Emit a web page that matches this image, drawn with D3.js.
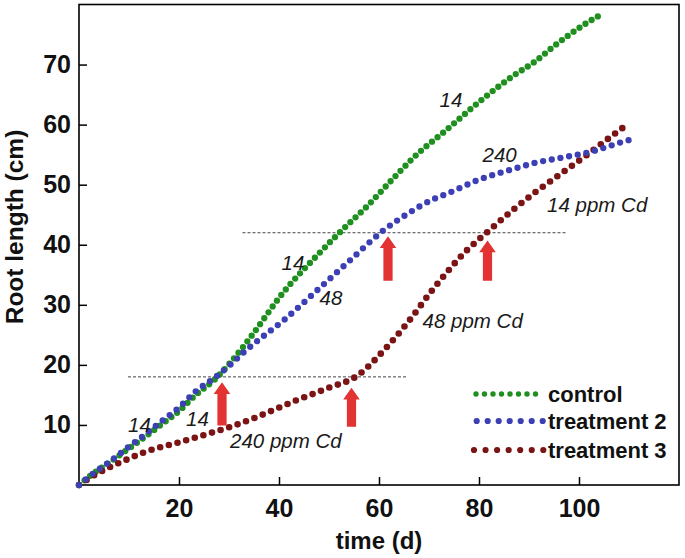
<!DOCTYPE html>
<html>
<head>
<meta charset="utf-8">
<script src="https://cdn.jsdelivr.net/npm/d3@7"></script>
<style>
  body { margin: 0; background: #fff; }
  svg { display: block; font-family: "Liberation Sans", Arial, sans-serif; }
</style>
</head>
<body>
<svg id="chart" width="685" height="558"></svg>
<script>
// ROOT LENGTH OVER TIME

// control
var controlTime = [0, 2.5, 6.5, 10, 13.2, 16.5, 20, 23.2, 27.2, 30.5, 34.3, 40.9, 47.6, 52.2, 57.6, 63.6, 66.9, 73.6, 80.2, 86.8, 91.2, 94.9, 101.5, 105];
var controlLength = [0, 1.7, 4.0, 6.1, 8.0, 10.1, 12.3, 14.9, 17.6, 20.6, 24.6, 32.1, 38.2, 42.1, 46.4, 51.7, 54.5, 59.2, 63.9, 68.1, 70.5, 73.0, 76.9, 78.6];

// treatment 2
var treat2Time = [0, 2.5, 6.5, 10, 13.2, 16.5, 20, 23.2, 27.2, 30.5, 33.5, 36.3, 40.9, 47.6, 54.2, 60.9, 65.6, 70.9, 73.6, 80.2, 86.8, 91.5, 95.9, 102.9, 108.2, 111.6];
var treat2Length = [0, 1.7, 4.1, 6.4, 8.4, 10.6, 12.9, 15.5, 17.9, 20.2, 22.5, 24.4, 27.4, 32.4, 37.4, 42.4, 45.1, 47.6, 48.5, 50.9, 52.6, 53.7, 54.4, 55.6, 57.0, 57.8];

// treatment 3
var treat3Time = [0, 3, 6.5, 10, 13.2, 20, 26.5, 30, 35.2, 42.9, 50, 55.3, 61.6, 65.6, 70.9, 77.6, 81.5, 86.8, 91.5, 95.5, 101.5, 105.9, 110.1];
var treat3Length = [0, 1.6, 3.1, 4.4, 5.5, 7.1, 8.7, 9.6, 11.2, 13.9, 16.2, 18.0, 23.0, 26.9, 32.7, 39.1, 42.0, 45.8, 48.9, 51.3, 54.9, 57.7, 60.3];

var xTicks = [20, 40, 60, 80, 100];
var yTicks = [10, 20, 30, 40, 50, 60, 70];

var seriesNames = ["control", "treatment 2", "treatment 3"];

// dashed reference lines: level, from, to
var refLevel = [18, 42];
var refFrom = [9.8, 32.7];
var refTo = [65.7, 97.6];

// red arrows: time, tip, base
var arrowTime = [28.6, 54.5, 61.8, 81.7];
var arrowTip = [17.1, 16.2, 41.4, 40.7];
var arrowBase = [9.9, 9.7, 34.0, 34.0];

// italic dose labels
var labelText = ["14", "240", "14 ppm Cd", "14", "48", "48 ppm Cd", "14", "14", "240 ppm Cd"];
var labelTime = [72.1, 80.7, 93.6, 40.5, 48.1, 68.7, 9.8, 21.4, 30.2];
var labelLength = [62.9, 53.7, 45.4, 35.8, 29.9, 26.2, 8.8, 9.8, 6.1];

var COLOR = {
  _CONTROL_GREEN: "#1f8f1f",
  _TREAT2_BLUE: "#3d40b5",
  _TREAT3_RED: "#7b1414",
  _ARROW_RED: "#e23232",
};

var margin = { top: 4.5, right: 6, bottom: 73, left: 79 };
var width = 685 - margin.left - margin.right;
var height = 558 - margin.top - margin.bottom;

var svg = d3.select("#chart");
var g = svg.append("g").attr("transform", "translate(" + margin.left + "," + margin.top + ")");

var x = d3.scaleLinear().domain([0, 120]).range([0, width]);
var y = d3.scaleLinear().domain([0, 80]).range([height, 0]);

// axes with inward ticks
var yAxis = g.append("g")
  .attr("class", "myYaxis")
  .call(d3.axisLeft(y).tickValues(yTicks).tickSize(-8).tickPadding(8));
var xAxis = g.append("g")
  .attr("class", "myXaxis")
  .attr("transform", "translate(0," + height + ")")
  .call(d3.axisBottom(x).tickValues(xTicks).tickSize(-8).tickPadding(14));

[xAxis, yAxis].forEach(function (a) {
  a.select(".domain").remove();
  a.selectAll("line").attr("stroke", "#000").attr("stroke-width", 1.5);
  a.selectAll("text")
    .attr("fill", "#111")
    .style("font-size", "25px")
    .style("font-weight", "bold");
});

// frame
g.append("rect")
  .attr("width", width)
  .attr("height", height)
  .attr("fill", "none")
  .attr("stroke", "#000")
  .attr("stroke-width", 1.6);

// axis titles
svg.append("text")
  .attr("x", 379)
  .attr("y", 549)
  .attr("text-anchor", "middle")
  .style("font-size", "24px")
  .style("font-weight", "bold")
  .attr("fill", "#111")
  .text("time (d)");

svg.append("text")
  .attr("transform", "translate(23," + 227 + ")rotate(-90)")
  .attr("text-anchor", "middle")
  .style("font-size", "24.5px")
  .style("font-weight", "bold")
  .attr("fill", "#111")
  .text("Root length (cm)");

// dashed reference lines
refLevel.forEach(function (lv, i) {
  g.append("line")
    .attr("x1", x(refFrom[i]))
    .attr("x2", x(refTo[i]))
    .attr("y1", y(lv))
    .attr("y2", y(lv))
    .attr("stroke", "#444")
    .attr("stroke-width", 1)
    .attr("stroke-dasharray", "3,2");
});

// dotted series
var line = d3.line()
  .x(function (d) { return x(d[0]); })
  .y(function (d) { return y(d[1]); })
  .curve(d3.curveMonotoneX);

var series = [
  { time: controlTime, len: controlLength, color: COLOR._CONTROL_GREEN, gap: 7.2, w: 6.3 },
  { time: treat3Time, len: treat3Length, color: COLOR._TREAT3_RED, gap: 9, w: 6.6 },
  { time: treat2Time, len: treat2Length, color: COLOR._TREAT2_BLUE, gap: 8.8, w: 6.3 },
];

series.forEach(function (s) {
  var pts = s.time.map(function (t, i) { return [t, s.len[i]]; });
  var path = g.append("path")
    .datum(pts)
    .attr("d", line)
    .attr("fill", "none")
    .attr("stroke", s.color)
    .attr("stroke-width", s.w)
    .attr("stroke-linecap", "round");
  // make the dots land on both ends (slightly short so the last one is kept)
  var L = path.node().getTotalLength();
  var gap = (L - 0.05) / Math.round(L / s.gap);
  path.attr("stroke-dasharray", "0," + gap);
});

// arrows
arrowTime.forEach(function (t, i) {
  var cx = x(t), tip = y(arrowTip[i]), base = y(arrowBase[i]);
  var sw = 4.6, hw = 8.3, hl = 11.7;
  var p = d3.path();
  p.moveTo(cx, tip);
  p.lineTo(cx + hw, tip + hl);
  p.lineTo(cx + sw, tip + hl);
  p.lineTo(cx + sw, base);
  p.lineTo(cx - sw, base);
  p.lineTo(cx - sw, tip + hl);
  p.lineTo(cx - hw, tip + hl);
  p.closePath();
  g.append("path").attr("d", p.toString()).attr("fill", COLOR._ARROW_RED);
});

// labels
labelText.forEach(function (txt, i) {
  g.append("text")
    .attr("x", x(labelTime[i]))
    .attr("y", y(labelLength[i]))
    .style("font-size", "20.5px")
    .style("font-style", "italic")
    .attr("fill", "#1a1a1a")
    .text(txt);
});

// legend
var legendColor = [COLOR._CONTROL_GREEN, COLOR._TREAT2_BLUE, COLOR._TREAT3_RED];
var legendGap = [8.5, 11, 11.55];
var legendX1 = [476, 476.7, 474];
var legendY = [394, 421, 450];
var legend = svg.append("g");
seriesNames.forEach(function (name, i) {
  legend.append("line")
    .attr("x1", legendX1[i])
    .attr("x2", 544)
    .attr("y1", legendY[i])
    .attr("y2", legendY[i])
    .attr("stroke", legendColor[i])
    .attr("stroke-width", i == 0 ? 5.4 : 6.2)
    .attr("stroke-linecap", "round")
    .attr("stroke-dasharray", "0," + legendGap[i]);
  legend.append("text")
    .attr("x", 548)
    .attr("y", legendY[i] + 7.5)
    .style("font-size", "22px")
    .style("font-weight", "bold")
    .attr("fill", "#111")
    .text(name);
});
</script>
</body>
</html>
